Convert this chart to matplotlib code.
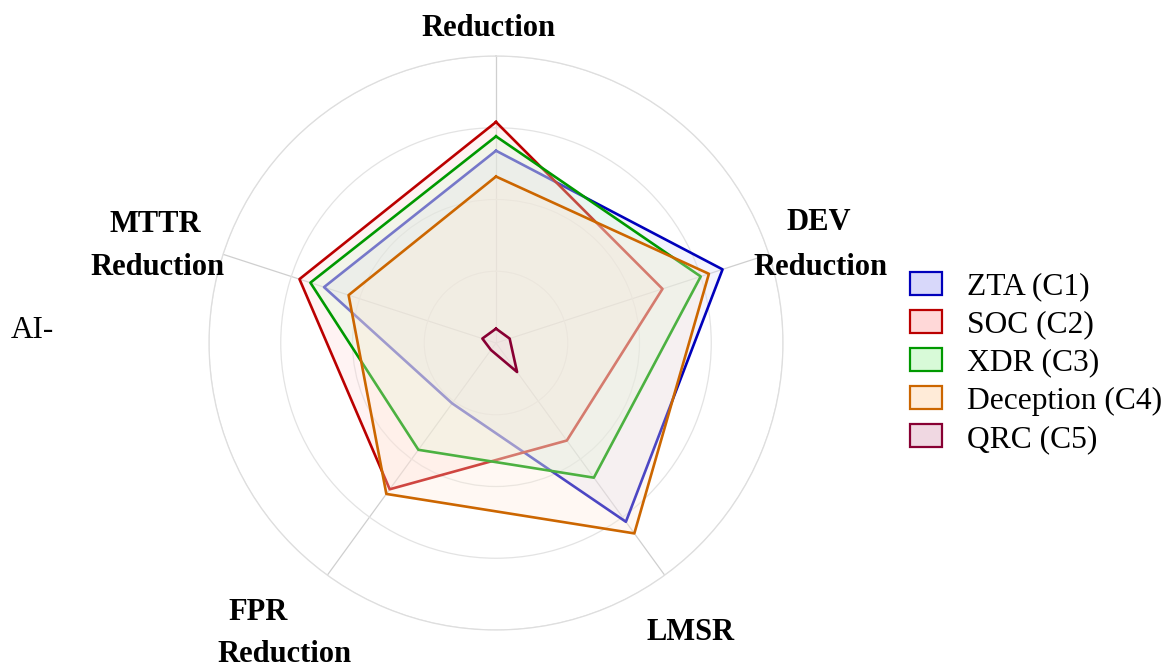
import numpy as np
import matplotlib.pyplot as plt
from matplotlib.patches import Patch

# axes, clockwise from the top
axes_names = ["AI-Reduction", "DEV Reduction", "LMSR", "FPR Reduction", "MTTR Reduction"]
series = ["ZTA (C1)", "SOC (C2)", "XDR (C3)", "Deception (C4)", "QRC (C5)"]
zta = [67, 83, 77, 26, 63]
soc = [77, 61, 42, 63, 72]
xdr = [72, 75, 58, 46, 68]
deception = [58, 78, 82, 65, 54]
qrc = [5, 5, 12.5, 3, 5]

line_colors = ["#0000bb", "#bb0000", "#009900", "#cc6600", "#880033"]
fill_colors = ["#d8d8fa", "#ffd8d8", "#d8fad8", "#ffebd8", "#f0d8e2"]

plt.rcParams["font.family"] = ["Liberation Serif", "DejaVu Serif"]

fig = plt.figure(figsize=(11.65, 6.68), dpi=100)
ax = fig.add_axes([209 / 1165, 38 / 668, 574 / 1165, 574 / 668], projection="polar")
ax.set_theta_offset(np.pi / 2)
ax.set_theta_direction(-1)

theta = np.linspace(0, 2 * np.pi, len(axes_names), endpoint=False)
theta_closed = np.append(theta, theta[0])

for i, vals in enumerate([zta, soc, xdr, deception, qrc]):
    v = np.append(vals, vals[0])
    ax.fill(theta_closed, v, color=fill_colors[i], alpha=0.3, lw=0, zorder=2 + 2 * i)
    ax.plot(theta_closed, v, color=line_colors[i], lw=1.9, zorder=3 + 2 * i)

ax.set_ylim(0, 100)
ax.set_rgrids([25, 50, 75, 100], labels=[])
ax.set_thetagrids(np.degrees(theta), labels=[])
ax.yaxis.grid(True, color="#e3e3e3", lw=0.9)
ax.xaxis.grid(True, color="#cfcfcf", lw=0.9)
ax.spines["polar"].set_color("#dedede")
ax.spines["polar"].set_linewidth(0.9)
ax.set_axisbelow(True)
ax.tick_params(length=0)

# axis labels (placed as in the reference)
lab = dict(fontsize=22, fontweight="bold", ha="center", va="center")
def px(x, y):
    return x / 1165, 1 - y / 668
fig.text(*px(489, 29), "Reduction", **lab)
fig.text(*px(155, 225), "MTTR", **lab)
fig.text(*px(158, 268), "Reduction", **lab)
fig.text(*px(819, 222), "DEV", **lab)
fig.text(*px(820, 268), "Reduction", **lab)
fig.text(*px(258, 612), "FPR", **lab)
fig.text(*px(285, 655), "Reduction", **lab)
fig.text(*px(691, 632), "LMSR", **lab)
fig.text(*px(32, 330), "AI-", fontsize=22.5, ha="center", va="center")

handles = [Patch(facecolor=fill_colors[i], edgecolor=line_colors[i], lw=1.6)
           for i in range(len(series))]
fig.legend(handles, series, loc="upper left", bbox_to_anchor=px(910, 272),
           frameon=False, fontsize=22.7, handlelength=1.0, handleheight=0.75,
           handletextpad=0.8, labelspacing=0.27, borderpad=0, borderaxespad=0)

fig.savefig("out.png", dpi=100)
